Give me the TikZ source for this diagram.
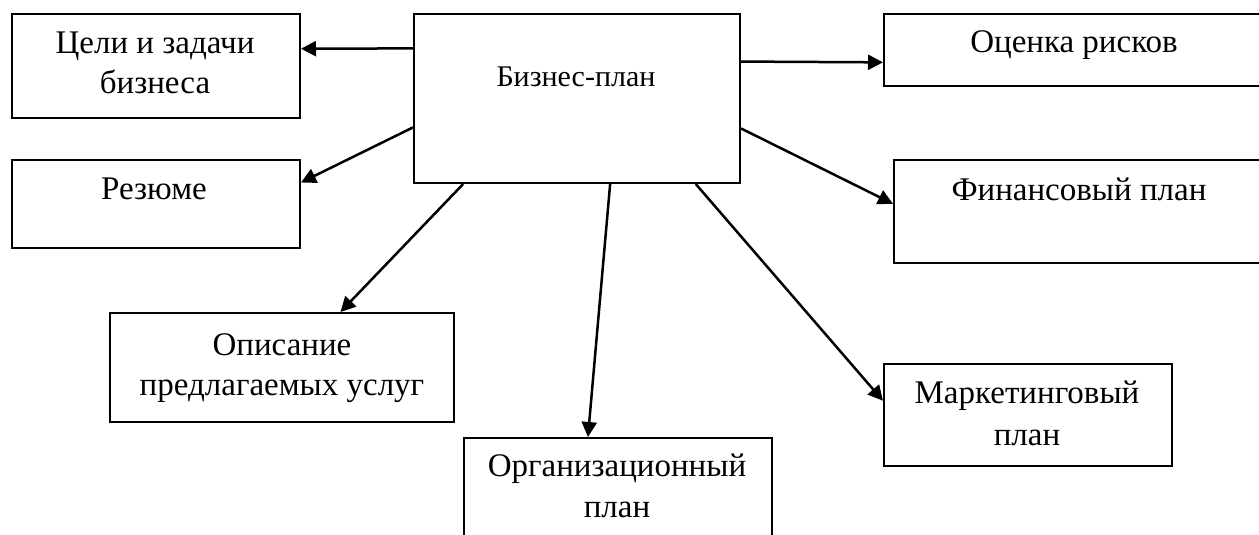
\documentclass[tikz,border=0pt]{standalone}
\usepackage{fontspec}
\setmainfont{Liberation Serif}
\usetikzlibrary{calc,arrows.meta}
\begin{document}
\begin{tikzpicture}[x=1pt,y=-1pt,
  box/.style={draw=black,line width=2pt,rectangle,inner sep=0pt,anchor=north west},
  lbl/.style={anchor=base,inner sep=0pt,font=\fontsize{33}{40}\selectfont},
  lblbp/.style={anchor=base,inner sep=0pt,font=\fontsize{30}{36}\selectfont},
  arr/.style={line width=2.5pt,-{Triangle[length=15pt,width=15pt]}}]
\useasboundingbox (0,0) rectangle (1259,535);
\fill[white] (0,0) rectangle (1259,535);
\clip (0,0) rectangle (1259,535);
% boxes
\node[box,minimum width=326pt,minimum height=169pt] (bp) at (413,13) {};
\node[box,minimum width=288pt,minimum height=104pt] (goals) at (11,13) {};
\node[box,minimum width=288pt,minimum height=88pt] (resume) at (11,159) {};
\node[box,minimum width=400pt,minimum height=72pt] (risk) at (883,13) {};
\node[box,minimum width=400pt,minimum height=103pt] (fin) at (893,159) {};
\node[box,minimum width=344pt,minimum height=109pt] (desc) at (109,312) {};
\node[box,minimum width=308pt,minimum height=130pt] (org) at (463,437) {};
\node[box,minimum width=288pt,minimum height=102pt] (mkt) at (883,363) {};
% labels
\node[lblbp] (bpT) at (576,87) {Бизнес-план};
\node[lbl] (goalsT1) at (155,54) {Цели и задачи};
\node[lbl] (goalsT2) at (155,94) {бизнеса};
\node[lbl] (resumeT) at (154,199) {Резюме};
\node[lbl] (riskT) at (1074,53) {Оценка рисков};
\node[lbl] (finT) at (1079,200) {Финансовый план};
\node[lbl] (descT1) at (282,355) {Описание};
\node[lbl] (descT2) at (282,395) {предлагаемых услуг};
\node[lbl] (orgT1) at (617,476) {Организационный};
\node[lbl] (orgT2) at (617,517) {план};
\node[lbl] (mktT1) at (1027,403) {Маркетинговый};
\node[lbl] (mktT2) at (1027,445) {план};
% connectors
\draw[arr] ($(bp.north west)!0.207!(bp.south west)$) -- ($(goals.north east)!0.337!(goals.south east)$);
\draw[arr] ($(bp.north west)!0.669!(bp.south west)$) -- ($(resume.north east)!0.261!(resume.south east)$);
\draw[arr] ($(bp.south west)!0.153!(bp.south east)$) -- ($(desc.north west)!0.669!(desc.north east)$);
\draw[arr] ($(bp.south west)!0.601!(bp.south east)$) -- ($(org.north west)!0.403!(org.north east)$);
\draw[arr] ($(bp.south west)!0.862!(bp.south east)$) -- ($(mkt.north west)!0.363!(mkt.south west)$);
\draw[arr] ($(bp.north east)!0.675!(bp.south east)$) -- ($(fin.north west)!0.427!(fin.south west)$);
\draw[arr] ($(bp.north east)!0.284!(bp.south east)$) -- ($(risk.north west)!0.667!(risk.south west)$);
\end{tikzpicture}
\end{document}
